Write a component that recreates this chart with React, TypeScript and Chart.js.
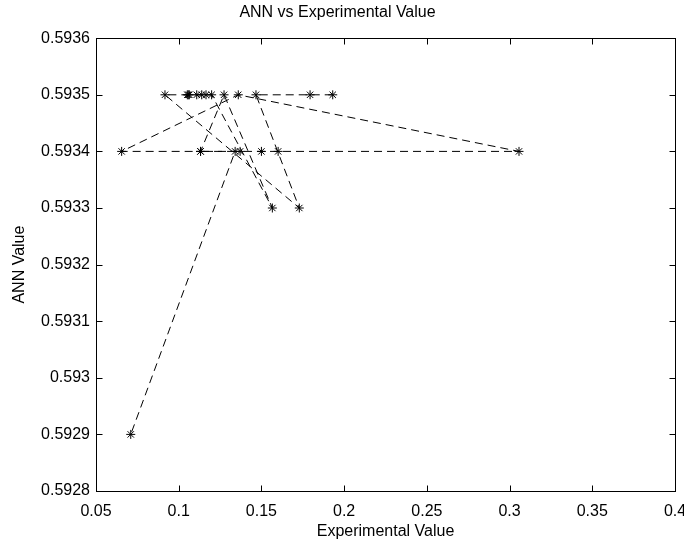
import React, { useEffect, useRef } from 'react';
import { Chart, registerables } from 'chart.js';

Chart.register(...registerables);

// Experimental (x) and ANN (y) values, in plotted order
const expValues = [
  0.1931, 0.1794, 0.1467, 0.1729, 0.0917, 0.1052, 0.1058, 0.1064, 0.1109, 0.1139,
  0.1165, 0.1199, 0.1566, 0.1274, 0.1132, 0.0655, 0.1360, 0.3057, 0.1601, 0.1500,
  0.1371, 0.1132, 0.1341, 0.0710,
];
const annValues = [
  0.5935, 0.5935, 0.5935, 0.5933, 0.5935, 0.5935, 0.5935, 0.5935, 0.5935, 0.5935,
  0.5935, 0.5935, 0.5933, 0.5935, 0.5934, 0.5934, 0.5935, 0.5934, 0.5934, 0.5934,
  0.5934, 0.5934, 0.5934, 0.5929,
];

const xTickValues = [0.05, 0.1, 0.15, 0.2, 0.25, 0.3, 0.35, 0.4];
const xTickLabels = ['0.05', '0.1', '0.15', '0.2', '0.25', '0.3', '0.35', '0.4'];
const yTickValues = [0.5928, 0.5929, 0.593, 0.5931, 0.5932, 0.5933, 0.5934, 0.5935, 0.5936];
const yTickLabels = ['0.5928', '0.5929', '0.593', '0.5931', '0.5932', '0.5933', '0.5934', '0.5935', '0.5936'];

const FONT = '"Liberation Sans", Arial, Helvetica, sans-serif';

export default function App() {
  const ref = useRef<HTMLCanvasElement>(null);

  useEffect(() => {
    document.body.style.margin = '0';
    const canvas = ref.current;
    if (!canvas) return;

    const boxPlugin = {
      id: 'matlabBox',
      afterDatasetsDraw(chart: any) {
        const { ctx, chartArea: a, scales } = chart;
        const L = 6;
        ctx.save();
        ctx.strokeStyle = '#000';
        ctx.lineWidth = 1;
        ctx.setLineDash([]);
        const l = Math.round(a.left) + 0.5;
        const r = Math.round(a.right) + 0.5;
        const t = Math.round(a.top) + 0.5;
        const b = Math.round(a.bottom) + 0.5;
        ctx.strokeRect(l, t, r - l, b - t);
        ctx.beginPath();
        scales.x.ticks.forEach((tk: any) => {
          const px = Math.round(scales.x.getPixelForValue(tk.value)) + 0.5;
          ctx.moveTo(px, b); ctx.lineTo(px, b - L);
          ctx.moveTo(px, t); ctx.lineTo(px, t + L);
        });
        scales.y.ticks.forEach((tk: any) => {
          const py = Math.round(scales.y.getPixelForValue(tk.value)) + 0.5;
          ctx.moveTo(l, py); ctx.lineTo(l + L, py);
          ctx.moveTo(r, py); ctx.lineTo(r - L, py);
        });
        ctx.stroke();
        ctx.restore();
      },
    };

    const chart = new Chart(canvas, {
      type: 'scatter',
      data: {
        datasets: [
          {
            data: expValues.map((x, i) => ({ x, y: annValues[i] })),
            showLine: true,
            borderColor: '#000',
            borderWidth: 1,
            borderDash: [8, 5],
            pointStyle: 'star',
            pointRadius: 4.5,
            pointBorderColor: '#000',
            pointBorderWidth: 1,
            pointBackgroundColor: '#000',
          },
        ],
      },
      options: {
        responsive: false,
        animation: false,
        devicePixelRatio: 1,
        events: [],
        layout: { padding: { left: 0, right: 9, top: 0, bottom: 0 } },
        plugins: {
          legend: { display: false },
          tooltip: { enabled: false },
          title: {
            display: true,
            text: 'ANN vs Experimental Value',
            color: '#000',
            font: { family: FONT, size: 16, weight: 'normal', lineHeight: 1.2 },
            padding: { top: 3, bottom: 16 },
          },
        },
        scales: {
          x: {
            type: 'linear',
            min: 0.05,
            max: 0.4,
            grid: { display: false, drawTicks: false },
            border: { display: false },
            afterFit: (s: any) => { s.height = 48; s.paddingLeft = 0; s.paddingRight = 0; },
            afterBuildTicks: (s: any) => { s.ticks = xTickValues.map((v) => ({ value: v })); },
            ticks: {
              color: '#000',
              font: { family: FONT, size: 16 },
              padding: 11,
              maxRotation: 0,
              autoSkip: false,
              callback: (v: any) => {
                const i = xTickValues.findIndex((t) => Math.abs(t - Number(v)) < 1e-9);
                return i >= 0 ? xTickLabels[i] : '';
              },
            },
            title: {
              display: true,
              text: 'Experimental Value',
              color: '#000',
              font: { family: FONT, size: 16, lineHeight: 0.9 },
              padding: { top: 0, bottom: 0 },
            },
          },
          y: {
            type: 'linear',
            min: 0.5928,
            max: 0.5936,
            grid: { display: false, drawTicks: false },
            border: { display: false },
            afterFit: (s: any) => { s.width = 96; s.paddingTop = 0; s.paddingBottom = 0; },
            afterBuildTicks: (s: any) => { s.ticks = yTickValues.map((v) => ({ value: v })); },
            ticks: {
              color: '#000',
              font: { family: FONT, size: 16 },
              padding: 6,
              autoSkip: false,
              callback: (v: any) => {
                const i = yTickValues.findIndex((t) => Math.abs(t - Number(v)) < 1e-9);
                return i >= 0 ? yTickLabels[i] : '';
              },
            },
            title: {
              display: true,
              text: 'ANN Value',
              color: '#000',
              font: { family: FONT, size: 16, lineHeight: 1.2 },
              padding: { top: 10, bottom: 0 },
            },
          },
        },
      },
      plugins: [boxPlugin],
    });

    return () => chart.destroy();
  }, []);

  return (
    <div style={{ width: 684, height: 539 }}>
      <canvas ref={ref} width={684} height={539} style={{ display: 'block' }} />
    </div>
  );
}
